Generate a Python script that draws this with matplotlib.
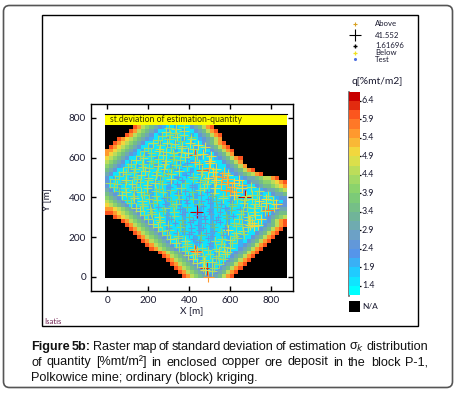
import numpy as np
import matplotlib
matplotlib.use("Agg")
import matplotlib.pyplot as plt
from matplotlib.colors import LinearSegmentedColormap, BoundaryNorm
from matplotlib.patches import FancyBboxPatch, Rectangle

W, H = 457, 393

# raster, one entry per row from the top: black cells on the left, then the left
# ramp, count of inner cells, right ramp. 0-9 and a are q levels from 1.4 to 6.4
raster_black = [7, 6, 5, 3, 2, 1, 0, 0, 0, 0, 0, 0, 0, 0, 0, 0, 0, 0, 0, 0, 0, 0, 0,
                2, 4, 5, 6, 7, 8, 9, 10, 11, 13, 14, 15, 16, 17, 18, 19]
raster_left = ["9865432", "9865432", "9865432", "98765432", "98765432", "98765432",
               "88765432", "8765432", "765432", "65432", "5432", "432", "32", "2", "2", "2",
               "32", "432", "5432", "65432", "765432", "88765432", "998765432", "98765432",
               "9865432", "9865432", "9865432", "9865432", "9865432", "9865432", "9865432",
               "9865432", "9865432", "9865432", "9865432", "9865432", "9865432", "9865432", "9865432"]
raster_inner = [7, 9, 11, 13, 14, 16, 18, 20, 22, 24, 26, 28, 30, 33, 34, 36, 37, 38, 39, 39,
                37, 34, 32, 30, 29, 27, 25, 23, 21, 19, 17, 15, 12, 10, 8, 6, 4, 2, 0]
raster_right = ["234689", "234689", "234689", "23468", "234689", "234689", "234689", "23468",
                "234689", "23468", "23468", "234689", "2345689", "233456689", "2334556789",
                "23445678", "233456", "2334", "22", "2", "22", "233", "2344", "23456", "24689",
                "234689", "234689", "234689", "234689", "234689", "234689", "234689", "234689",
                "234689", "234689", "234689", "234689", "234689", "234689"]
inner_codes = "100100010001000100100010001000010010001000100"

bar_ticks = [1.4, 1.9, 2.4, 2.9, 3.4, 3.9, 4.4, 4.9, 5.4, 5.9, 6.4]
bar_colors = ["#00ffff", "#22c8ff", "#5a90e8", "#6fa4c0", "#70b890", "#80d070",
              "#b0dc60", "#f0e040", "#ffa030", "#ff5a20", "#c80000"]

xy_ticks = [0, 200, 400, 600, 800]

test_x = [300, 335, 372, 268, 305, 338, 372, 410, 222, 258, 292, 328, 365, 402, 440,
          180, 215, 250, 288, 322, 360, 395, 428, 465, 140, 175, 212, 248, 285, 318, 352, 428, 462, 498,
          100, 135, 172, 205, 245, 278, 315, 350, 388, 462, 495, 530,
          55, 92, 128, 165, 200, 238, 272, 310, 345, 382, 418, 455, 490, 525, 560, 590,
          12, 48, 85, 122, 158, 195, 232, 268, 305, 340, 378, 412, 450, 485, 522, 555, 588, 620, 655,
          55, 90, 128, 162, 198, 235, 270, 308, 342, 380, 415, 452, 488, 522, 577, 600, 630, 671, 705, 740,
          95, 132, 170, 205, 240, 278, 312, 350, 385, 420, 458, 492, 530, 565, 600, 635, 670, 705, 740, 775, 810,
          138, 175, 210, 248, 282, 320, 355, 390, 436, 465, 500, 535, 572, 610, 645, 680, 715, 750, 785, 815,
          180, 218, 252, 290, 325, 362, 398, 432, 470, 505, 540, 578, 612, 650, 685, 722, 690, 705,
          222, 258, 295, 330, 368, 402, 440, 475, 512, 548, 585, 620, 655, 695, 715, 735,
          265, 300, 338, 372, 410, 445, 482, 518, 555, 590, 628, 660,
          308, 345, 380, 418, 452, 490, 525, 560, 598, 632,
          350, 388, 422, 428, 460, 498, 532, 570, 600,
          392, 430, 465, 500, 538, 575,
          435, 470, 485, 510, 545,
          478, 493, 512,
          285, 330, 375,
          245, 300, 355, 410,
          200, 255, 310, 365, 420, 475,
          160, 215, 270, 325, 380, 435, 505,
          115, 170, 225, 280, 335, 390, 445, 500,
          75, 130, 185, 240, 295, 350, 405, 460, 515, 570,
          35, 90, 145, 200, 255, 310, 365, 420, 475, 530, 585, 640,
          30, 85, 140, 195, 250, 305, 360, 415, 470, 525, 610, 655, 700,
          70, 125, 180, 235, 290, 345, 400, 455, 510, 565, 620, 675, 730, 785,
          115, 170, 225, 280, 335, 390, 445, 500, 555, 610, 665, 720, 775, 825,
          160, 215, 270, 325, 380, 495, 550, 605, 660, 715, 770,
          200, 255, 310, 365, 420, 475, 530, 585, 640, 695, 750,
          245, 300, 355, 410, 465, 520, 575, 630, 685,
          290, 345, 400, 455, 510, 565, 620, 665,
          335, 390, 445, 500, 555, 610,
          380, 435, 490, 545, 585,
          420, 475, 530, 565,
          465, 520]
test_y = [752, 745, 755, 708, 715, 705, 712, 702, 672, 665, 675, 668, 660, 672, 665,
          632, 625, 635, 628, 622, 630, 626, 612, 620, 590, 596, 585, 592, 582, 594, 588, 580, 540, 585,
          552, 545, 555, 548, 558, 542, 550, 545, 556, 535, 548, 545,
          510, 518, 505, 512, 500, 515, 508, 518, 502, 512, 505, 516, 500, 510, 505, 515,
          472, 465, 478, 468, 475, 462, 472, 465, 478, 468, 472, 462, 475, 468, 478, 465, 478, 470, 462,
          432, 425, 435, 428, 420, 434, 426, 438, 422, 430, 425, 436, 428, 422, 436, 430, 425, 403, 412, 430,
          388, 395, 382, 392, 385, 396, 382, 390, 385, 394, 380, 392, 384, 396, 382, 390, 385, 394, 380, 392, 385,
          348, 355, 342, 352, 345, 356, 342, 350, 327, 354, 340, 352, 345, 356, 342, 350, 345, 354, 335, 348,
          310, 315, 302, 312, 305, 316, 302, 310, 305, 314, 300, 312, 305, 316, 302, 310, 285, 270,
          268, 275, 262, 272, 265, 276, 262, 270, 265, 274, 260, 272, 265, 262, 255, 262,
          230, 235, 222, 232, 225, 236, 222, 230, 225, 234, 220, 232,
          190, 195, 182, 192, 185, 196, 182, 190, 185, 194,
          150, 155, 142, 131, 145, 156, 142, 150, 145,
          108, 115, 102, 112, 105, 116,
          70, 75, 42, 72, 65,
          32, 0, 28,
          730, 725, 733,
          690, 694, 686, 692,
          650, 646, 653, 648, 644, 652,
          610, 606, 613, 608, 604, 612, 607,
          570, 566, 573, 568, 564, 572, 567, 574,
          530, 526, 533, 528, 524, 532, 527, 534, 529, 525,
          490, 486, 493, 488, 484, 492, 487, 494, 489, 485, 491, 486,
          450, 446, 453, 448, 444, 452, 447, 454, 449, 445, 451, 446, 452,
          410, 406, 413, 408, 404, 412, 407, 414, 409, 405, 411, 406, 412, 408,
          370, 366, 373, 368, 364, 372, 367, 374, 369, 365, 371, 366, 372, 368,
          330, 326, 333, 328, 324, 332, 327, 334, 329, 325, 331,
          290, 286, 293, 288, 284, 292, 287, 294, 289, 285, 291,
          250, 246, 253, 248, 244, 252, 247, 254, 249,
          210, 206, 213, 208, 204, 212, 207, 214,
          170, 166, 173, 168, 164, 172,
          130, 126, 133, 128, 124,
          90, 86, 93, 88,
          50, 46]
test_q = [4.3, 4.4, 4.2, 4.3, 4.2, 4.4, 4.4, 4.1, 4.4, 4.3, 4.5, 4.4, 4.6, 4.7, 5.0,
          4.3, 4.3, 4.4, 4.4, 4.4, 4.6, 4.8, 6.0, 4.9, 4.4, 4.4, 4.2, 4.3, 4.4, 4.1, 4.3, 5.2, 6.1, 5.0,
          4.3, 4.3, 4.4, 4.2, 4.4, 4.4, 3.8, 2.6, 4.3, 5.0, 5.2, 4.8,
          4.2, 4.3, 4.3, 4.5, 4.4, 4.4, 4.1, 4.4, 2.5, 2.3, 4.2, 4.3, 4.9, 5.2, 5.4, 4.8,
          4.3, 4.3, 4.1, 4.4, 4.3, 4.4, 4.4, 4.2, 2.8, 2.4, 3.9, 2.6, 4.2, 4.4, 4.5, 5.2, 5.6, 5.0, 5.2,
          4.1, 4.4, 4.2, 4.4, 3.6, 4.3, 4.3, 4.1, 2.5, 2.7, 3.8, 4.2, 2.6, 4.4, 5.5, 5.6, 5.3, 6.5, 4.6, 4.4,
          3.9, 4.4, 4.4, 4.2, 4.3, 2.6, 3.8, 4.1, 2.4, 4.0, 2.7, 2.5, 3.6, 4.4, 2.8, 4.2, 4.3, 4.4, 4.7, 5.0, 4.5,
          4.4, 4.2, 4.3, 2.8, 4.3, 4.1, 2.5, 3.7, 6.5, 2.4, 2.6, 3.4, 2.5, 4.1, 2.7, 4.3, 4.4, 4.6, 5.8, 4.5,
          4.3, 4.3, 4.4, 2.7, 4.2, 2.4, 3.5, 2.3, 2.6, 2.8, 2.4, 3.6, 2.5, 4.2, 4.5, 4.8, 4.8, 4.9,
          4.4, 4.4, 4.2, 2.6, 3.6, 2.5, 2.4, 2.7, 3.3, 2.4, 4.0, 4.3, 4.3, 4.9, 5.0, 4.8,
          4.3, 4.3, 2.7, 3.5, 2.5, 2.4, 2.8, 2.4, 4.1, 4.9, 4.4, 4.4,
          4.4, 4.2, 4.4, 2.6, 3.4, 2.5, 4.2, 4.3, 4.5, 4.3,
          4.3, 4.3, 4.4, 5.9, 4.2, 2.6, 4.3, 4.4, 4.4,
          4.4, 4.5, 4.3, 4.3, 4.2, 4.4,
          4.4, 4.8, 6.2, 4.4, 4.3,
          4.8, 5.4, 4.4,
          4.4, 4.2, 4.4,
          4.3, 4.3, 4.1, 4.4,
          4.3, 4.4, 4.2, 4.4, 4.5, 4.8,
          4.3, 4.2, 4.4, 4.3, 4.4, 4.6, 5.0,
          4.3, 4.3, 4.1, 4.4, 4.2, 2.6, 4.4, 5.0,
          4.4, 4.2, 4.4, 4.3, 4.1, 4.4, 2.5, 4.4, 5.0, 5.2,
          4.3, 4.4, 4.2, 4.3, 4.1, 4.4, 2.4, 3.9, 4.3, 4.9, 5.2, 5.0,
          4.2, 4.3, 4.3, 4.4, 4.1, 2.6, 4.3, 2.5, 4.4, 4.8, 5.3, 5.0, 4.6,
          4.4, 4.2, 4.3, 4.3, 3.8, 4.1, 2.5, 2.7, 3.6, 4.2, 5.0, 4.5, 4.3, 4.4,
          4.3, 4.3, 4.1, 2.6, 4.3, 2.4, 3.7, 2.5, 2.7, 3.9, 4.4, 4.4, 4.8, 4.9,
          4.4, 4.2, 3.8, 4.3, 2.6, 2.5, 2.8, 3.5, 4.2, 4.4, 4.5,
          4.3, 4.2, 2.7, 3.6, 2.4, 2.6, 2.5, 3.4, 4.3, 4.6, 4.9,
          4.4, 2.8, 4.1, 2.5, 2.4, 3.5, 2.6, 4.2, 4.4,
          4.3, 4.3, 2.6, 3.8, 2.4, 2.7, 4.3, 4.3,
          4.4, 4.2, 2.5, 2.6, 4.3, 4.3,
          4.3, 5.2, 4.2, 4.4, 4.4,
          4.4, 4.3, 4.3, 4.2,
          4.5, 4.3]

legend_labels = ["Above", "41.552", "1.61696", "Below", "Test"]
caption_lines = [
    [("Figure", "bold"), ("5b:", "bold"), ("Raster", "normal"), ("map", "normal"), ("of", "normal"),
     ("standard", "normal"), ("deviation", "normal"), ("of", "normal"), ("estimation", "normal"),
     ("σ$_{k}$", "normal"), ("distribution", "normal")],
    [(w, "normal") for w in "of quantity [%mt/m²] in enclosed copper ore deposit in the block P-1,".split()],
]
caption_last = "Polkowice mine; ordinary (block) kriging."

plt.rcParams['font.family'] = ['Lato', 'DejaVu Sans']
CAP_FONT = ['Liberation Sans', 'DejaVu Sans']
TXT = "#1a1a30"

fig = plt.figure(figsize=(W / 100, H / 100), dpi=100)

# whole figure in pixels, for the frames and the loose texts
page = fig.add_axes([0, 0, 1, 1])
page.set_xlim(0, W)
page.set_ylim(H, 0)
page.axis('off')
page.add_patch(FancyBboxPatch((3.5, 5.5), 449, 382, boxstyle="round,pad=0,rounding_size=6",
                              fc='white', ec='#555555', lw=1.2))
page.add_patch(Rectangle((41.5, 14.5), 376, 311.5, fc='white', ec='black', lw=1.0))


def pix_axes(x0, y0, x1, y1):
    return fig.add_axes([x0 / W, 1 - y1 / H, (x1 - x0) / W, (y1 - y0) / H])


cmap_all = LinearSegmentedColormap.from_list("q", bar_colors)
edges = np.arange(1.15, 6.66, 0.25)
cmap = cmap_all.resampled(len(edges) - 1)
norm = BoundaryNorm(edges, cmap.N)

# raster map
rows = []
for i, (nb, lft, ni, rgt) in enumerate(zip(raster_black, raster_left, raster_inner, raster_right)):
    start = i % 7
    r = "." * nb + lft + inner_codes[start:start + ni] + rgt
    rows.append(r.ljust(45, '.'))
codes = {c: 1.4 + 0.5 * i for i, c in enumerate("0123456789a")}
grid = np.array([[codes.get(c, np.nan) for c in r] for r in rows])

ax = pix_axes(91, 103.5, 293, 291)
ax.add_patch(Rectangle((-12, -5), 887, 768, fc='black', ec='none', zorder=0))
ax.imshow(grid, cmap=cmap, norm=norm, extent=(-12, 875, -5, 763), origin='upper',
          interpolation='nearest', aspect='auto', zorder=1)
ax.set_xlim(-80, 906)
ax.set_ylim(-72, 873)

q = np.array(test_q)
sizes = ((2 + q * 1.7) * 0.72) ** 2
ax.scatter(test_x, test_y, s=sizes, c=q, cmap=cmap, norm=norm, marker='+', linewidths=0.8,
           zorder=2, clip_on=False)

ax.add_patch(Rectangle((-12, 763), 887, 55, fc='#ffff00', ec='none', zorder=3))
ax.plot([-12, 875], [818, 818], color='black', lw=0.8, zorder=3)
ax.text(12, 790, "st.deviation of estimation-quantity", fontsize=6.2, color='#333300',
        va='center', ha='left', zorder=4)

ax.set_xticks(xy_ticks)
ax.set_yticks(xy_ticks)
ax.tick_params(direction='in', top=True, right=True, length=3.6, width=1.0,
               labelsize=7.2, labelcolor=TXT, pad=3.5)
for s in ax.spines.values():
    s.set_linewidth(1.0)

page.text(192, 311, "X [m]", fontsize=7.2, color=TXT, ha='center', va='center')
page.text(47, 200, "Y [m]", fontsize=7.2, color=TXT, ha='center', va='center', rotation=90)
page.text(44, 321, "Isatis", fontsize=5.6, color='#702050', ha='left', va='center')

# legend of the crosses
leg_y = [24, 35, 45, 52.5, 60]
page.scatter([355], [24], marker='+', s=10, c='#d8a020', linewidths=0.8)
page.scatter([355], [35], marker='+', s=85, c='black', linewidths=0.8)
page.scatter([355], [46], marker='+', s=6, c='black', linewidths=1.0)
page.scatter([355], [53], marker='+', s=8, c='#f0e020', linewidths=0.9)
page.scatter([355], [59], marker='o', s=5, c='#5070e0', linewidths=0)
for lab, y in zip(legend_labels, leg_y):
    page.text(375, y, lab, fontsize=5.6, color=TXT, ha='left', va='center')

# colour bar
cb = pix_axes(348.5, 92, 359.5, 296)
cb.pcolormesh([0, 1], edges, np.array(edges[:-1] + 0.125).reshape(-1, 1), cmap=cmap, norm=norm)
cb.set_xlim(0, 1)
cb.set_ylim(1.13, 6.64)
cb.axis('off')
page.plot([348.5, 348.5], [92, 296], color='#666666', lw=1.2)
for t in bar_ticks:
    yp = 286 - (t - 1.4) * 37.06
    page.plot([349, 352], [yp, yp], color='black', lw=0.9, solid_capstyle='butt')
    page.plot([355, 361], [yp, yp], color='black', lw=0.9, solid_capstyle='butt')
    page.text(362, yp, f"{t:.1f}", fontsize=6.4, color=TXT, ha='left', va='center')
page.text(377, 81, "q[%mt/m2]", fontsize=7.4, color=TXT, ha='center', va='center')
page.add_patch(Rectangle((349, 301), 11, 11, fc='black', ec='none'))
page.text(362, 306.5, "N/A", fontsize=6.0, color=TXT, ha='left', va='center')

# caption, first two lines stretched to the column width
fig.canvas.draw()
rend = fig.canvas.get_renderer()
x_left, x_right = 31, 428
for line, yb in zip(caption_lines, [350, 365.5]):
    arts = [page.text(0, yb, w, fontsize=9.1, fontweight=wt, family=CAP_FONT, color='#111111',
                      ha='left', va='baseline') for w, wt in line]
    widths = [a.get_window_extent(rend).width for a in arts]
    gap = (x_right - x_left - sum(widths)) / (len(arts) - 1)
    xp = x_left
    for a, w in zip(arts, widths):
        a.set_x(xp)
        xp += w + gap
page.text(x_left, 381, caption_last, fontsize=9.1, family=CAP_FONT, color='#111111', ha='left', va='baseline')

fig.savefig("out.png", dpi=100)
